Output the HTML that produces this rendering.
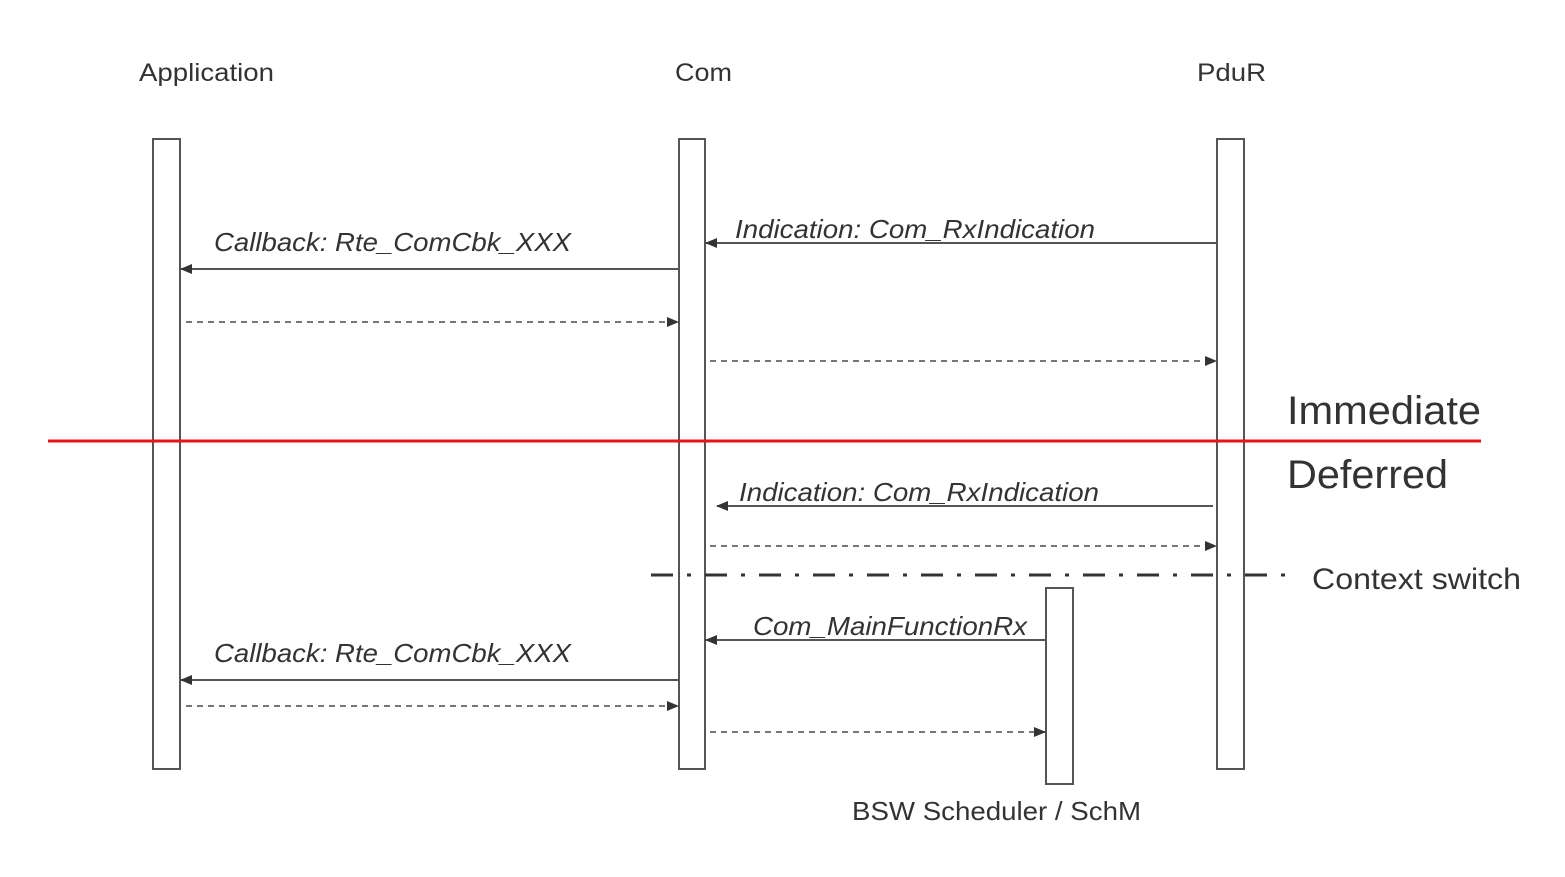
<!DOCTYPE html>
<html><head><meta charset="utf-8"><style>body{margin:0;background:#fff}svg{display:block}</style></head><body>
<svg width="1565" height="877" viewBox="0 0 1565 877" xmlns="http://www.w3.org/2000/svg" font-family="Liberation Sans, sans-serif">
<defs><marker id="a" markerWidth="12" markerHeight="10" refX="11" refY="5" orient="auto" markerUnits="userSpaceOnUse"><path d="M0,0 L12,5 L0,10 z" fill="#333"/></marker></defs>
<g fill="#333" font-size="25">
<text x="139" y="81" textLength="135" lengthAdjust="spacingAndGlyphs">Application</text><text x="675" y="81" textLength="57" lengthAdjust="spacingAndGlyphs">Com</text><text x="1197" y="81" textLength="69" lengthAdjust="spacingAndGlyphs">PduR</text>
</g>
<g fill="#fff" stroke="#555" stroke-width="2">
<rect x="153" y="139" width="27" height="630"/><rect x="679" y="139" width="26" height="630"/><rect x="1217" y="139" width="27" height="630"/><rect x="1046" y="588" width="27" height="196"/>
</g>
<g stroke="#555" stroke-width="2" marker-end="url(#a)">
<line x1="1217" y1="243" x2="706" y2="243"/>
<line x1="679" y1="269" x2="181" y2="269"/>
<line x1="1213" y1="506" x2="717" y2="506"/>
<line x1="1046" y1="640" x2="706" y2="640"/>
<line x1="679" y1="680" x2="181" y2="680"/>
</g>
<g stroke="#777" stroke-width="2" stroke-dasharray="6,5" marker-end="url(#a)">
<line x1="186" y1="322" x2="678" y2="322"/>
<line x1="710" y1="361" x2="1216" y2="361"/>
<line x1="710" y1="546" x2="1216" y2="546"/>
<line x1="186" y1="706" x2="678" y2="706"/>
<line x1="710" y1="732" x2="1045" y2="732"/>
</g>
<line x1="48" y1="441" x2="1481" y2="441" stroke="#e8141a" stroke-width="3"/>
<line x1="651" y1="575" x2="1297" y2="575" stroke="#333" stroke-width="3" stroke-dasharray="22,14,4,14"/>
<g fill="#333" font-size="26" font-style="italic" lengthAdjust="spacingAndGlyphs">
<text x="735" y="238" textLength="360" lengthAdjust="spacingAndGlyphs">Indication: Com_RxIndication</text>
<text x="214" y="251" textLength="357" lengthAdjust="spacingAndGlyphs">Callback: Rte_ComCbk_XXX</text>
<text x="739" y="501" textLength="360" lengthAdjust="spacingAndGlyphs">Indication: Com_RxIndication</text>
<text x="753" y="635" textLength="274" lengthAdjust="spacingAndGlyphs">Com_MainFunctionRx</text>
<text x="214" y="662" textLength="357" lengthAdjust="spacingAndGlyphs">Callback: Rte_ComCbk_XXX</text>
</g>
<g fill="#333">
<text x="1287" y="424" font-size="40" textLength="194" lengthAdjust="spacingAndGlyphs">Immediate</text>
<text x="1287" y="488" font-size="40" textLength="161" lengthAdjust="spacingAndGlyphs">Deferred</text>
<text x="1312" y="589" font-size="30" textLength="209" lengthAdjust="spacingAndGlyphs">Context switch</text>
<text x="852" y="820" font-size="26" textLength="289" lengthAdjust="spacingAndGlyphs">BSW Scheduler / SchM</text>
</g>
</svg>
</body></html>
